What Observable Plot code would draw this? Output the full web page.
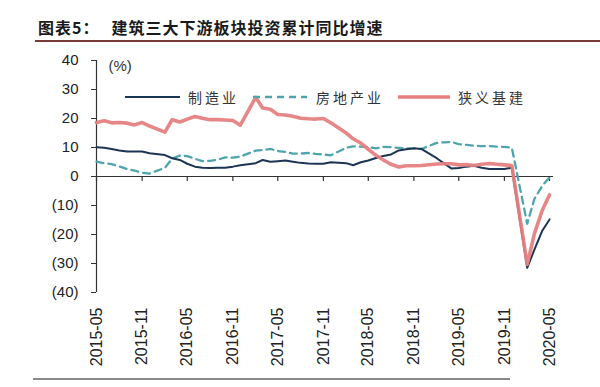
<!DOCTYPE html>
<html><head><meta charset="utf-8">
<script src="https://cdn.jsdelivr.net/npm/d3@7"></script>
<script src="https://cdn.jsdelivr.net/npm/@observablehq/plot@0.6"></script>
<style>
html,body{margin:0;padding:0;background:#fff;}
#wrap{position:relative;width:600px;height:387px;overflow:hidden;background:#fff;}
#title{position:absolute;left:38px;top:17px;font-family:"Noto Sans CJK SC",sans-serif;font-weight:700;font-size:16px;color:#1a1a1a;letter-spacing:1px;white-space:nowrap;line-height:20px;}
#title .t2{margin-left:12px;}
#rule{position:absolute;left:35px;right:0;top:40px;height:1.5px;background:#7a3a36;}
#chart{position:absolute;left:0;top:46px;}
#foot{position:absolute;left:33px;width:477px;top:378px;height:2px;background:#8a8a8a;}
.lg{position:absolute;top:88px;font-family:"Noto Sans CJK SC",sans-serif;font-size:14px;color:#333;letter-spacing:3px;line-height:18px;white-space:nowrap;}
.sw{position:absolute;top:88px;}
</style></head>
<body><div id="wrap">
<div id="title"><span>图表5：</span><span class="t2">建筑三大下游板块投资累计同比增速</span></div>
<div id="rule"></div>
<div id="chart"></div>
<div id="legend"></div>
<div id="foot"></div>
</div>
<script>
const months = [
"2015-05","2015-06","2015-07","2015-08","2015-09","2015-10","2015-11","2015-12",
"2016-02","2016-03","2016-04","2016-05","2016-06","2016-07","2016-08","2016-09","2016-10","2016-11","2016-12",
"2017-02","2017-03","2017-04","2017-05","2017-06","2017-07","2017-08","2017-09","2017-10","2017-11","2017-12",
"2018-02","2018-03","2018-04","2018-05","2018-06","2018-07","2018-08","2018-09","2018-10","2018-11","2018-12",
"2019-02","2019-03","2019-04","2019-05","2019-06","2019-07","2019-08","2019-09","2019-10","2019-11","2019-12",
"2020-02","2020-03","2020-04","2020-05"];
const manufacturing = [
10.1,9.9,9.5,9.0,8.6,8.6,8.6,8.0,
7.4,6.3,5.7,4.4,3.4,3.0,2.9,3.0,3.0,3.4,3.9,
4.6,5.7,5.1,5.3,5.5,5.1,4.7,4.5,4.4,4.4,4.9,
4.6,3.9,4.9,5.5,6.4,7.1,7.6,9.0,9.4,9.7,9.5,
6.3,4.6,2.8,2.9,3.4,3.7,3.0,2.6,2.6,2.6,3.0,
-31.5,-25.2,-18.8,-14.8];
const realEstate = [
5.1,4.6,4.3,3.5,2.6,2.0,1.3,1.0,
3.0,6.2,7.2,7.0,6.1,5.3,5.4,5.8,6.6,6.5,6.9,
8.9,9.1,9.5,8.8,8.5,7.9,7.9,8.1,7.8,7.6,7.3,
9.9,10.4,10.3,10.2,9.7,10.2,10.1,9.9,9.7,9.7,9.5,
11.6,11.8,11.9,11.2,10.9,10.6,10.5,10.5,10.3,10.2,9.9,
-16.3,-7.7,-3.3,-0.3];
const infrastructure = [
18.6,19.2,18.5,18.6,18.4,17.8,18.6,17.4,
15.3,19.6,18.8,19.8,20.7,20.1,19.6,19.6,19.5,19.3,17.7,
27.3,23.6,23.2,21.4,21.2,20.8,20.1,19.9,19.8,20.0,18.5,
15.0,13.0,11.5,9.4,7.3,5.7,4.2,3.3,3.7,3.7,3.8,
4.3,4.4,4.4,4.0,4.1,3.8,4.2,4.5,4.2,4.0,3.8,
-30.3,-19.7,-11.8,-6.3];
const seriesNames = ["制造业","房地产业","狭义基建"];
const xTickLabels = ["2015-05","2015-11","2016-05","2016-11","2017-05","2017-11","2018-05","2018-11","2019-05","2019-11","2020-05"];
const yTicks = [-40,-30,-20,-10,0,10,20,30,40];

const parse = d3.utcParse("%Y-%m");
const toRows = vals => months.map((m,i)=>({date:parse(m), value:vals[i]}));
const mRows = toRows(manufacturing), rRows = toRows(realEstate), iRows = toRows(infrastructure);
const tickDates = xTickLabels.map(parse);
const colors = {m:"#1d3554", r:"#4ea5ad", i:"#e5807f"};
const x0 = parse("2015-05"), x1 = new Date(Date.UTC(2020,4,17));

const chart = Plot.plot({
  width:600, height:341,
  marginLeft:96, marginRight:47, marginTop:14, marginBottom:95,
  style:{fontFamily:"'Liberation Sans', Arial, sans-serif", fontSize:"15px", color:"#222", background:"transparent"},
  x:{type:"utc", domain:[x0,x1]},
  y:{domain:[-40,40]},
  marks:[
    Plot.axisY({ticks:yTicks, tickSize:5, tickPadding:13, tickFormat:d=> d<0?`(${-d})`:`${d}`, label:null, stroke:"#333"}),
    Plot.axisX({ticks:tickDates, tickSize:0, tickPadding:15, tickRotate:-90, fontSize:16, tickFormat:d3.utcFormat("%Y-%m"), label:null}),
    Plot.ruleX([x0], {y1:-40, y2:40, stroke:"#333", strokeWidth:1.2}),
    Plot.ruleY([0], {stroke:"#333", strokeWidth:1.2}),
    Plot.ruleX(tickDates, {x:d=>d, y1:0, y2:-1.7, stroke:"#333", strokeWidth:1.2}),
    Plot.text(["(%)"], {frameAnchor:"top-left", dx:12, dy:0, fontSize:15, fill:"#333", textAnchor:"start", lineAnchor:"top"}),
    Plot.line(rRows, {x:"date", y:"value", stroke:colors.r, strokeWidth:2.3, strokeDasharray:"7,5"}),
    Plot.line(mRows, {x:"date", y:"value", stroke:colors.m, strokeWidth:2}),
    Plot.line(iRows, {x:"date", y:"value", stroke:colors.i, strokeWidth:3.6, strokeOpacity:0.95})
  ]
});
document.getElementById("chart").appendChild(chart);

// legend
const lg = document.getElementById("legend");
const items = [
  {name:seriesNames[0], sx:125, sw:55, tx:188, stroke:colors.m, w:2, dash:null},
  {name:seriesNames[1], sx:253, sw:54, tx:316, stroke:colors.r, w:2.3, dash:"7,5"},
  {name:seriesNames[2], sx:398, sw:52, tx:458, stroke:colors.i, w:3.6, dash:null}
];
items.forEach(it=>{
  const s = document.createElementNS("http://www.w3.org/2000/svg","svg");
  s.setAttribute("width", it.sw); s.setAttribute("height", 18);
  s.setAttribute("class","sw"); s.style.left = it.sx+"px";
  const l = document.createElementNS("http://www.w3.org/2000/svg","line");
  l.setAttribute("x1",0); l.setAttribute("x2",it.sw); l.setAttribute("y1",9); l.setAttribute("y2",9);
  l.setAttribute("stroke",it.stroke); l.setAttribute("stroke-width",it.w);
  if(it.dash) l.setAttribute("stroke-dasharray",it.dash);
  s.appendChild(l); lg.appendChild(s);
  const t = document.createElement("div"); t.className="lg"; t.style.left=it.tx+"px"; t.textContent=it.name;
  lg.appendChild(t);
});
</script>
</body></html>
